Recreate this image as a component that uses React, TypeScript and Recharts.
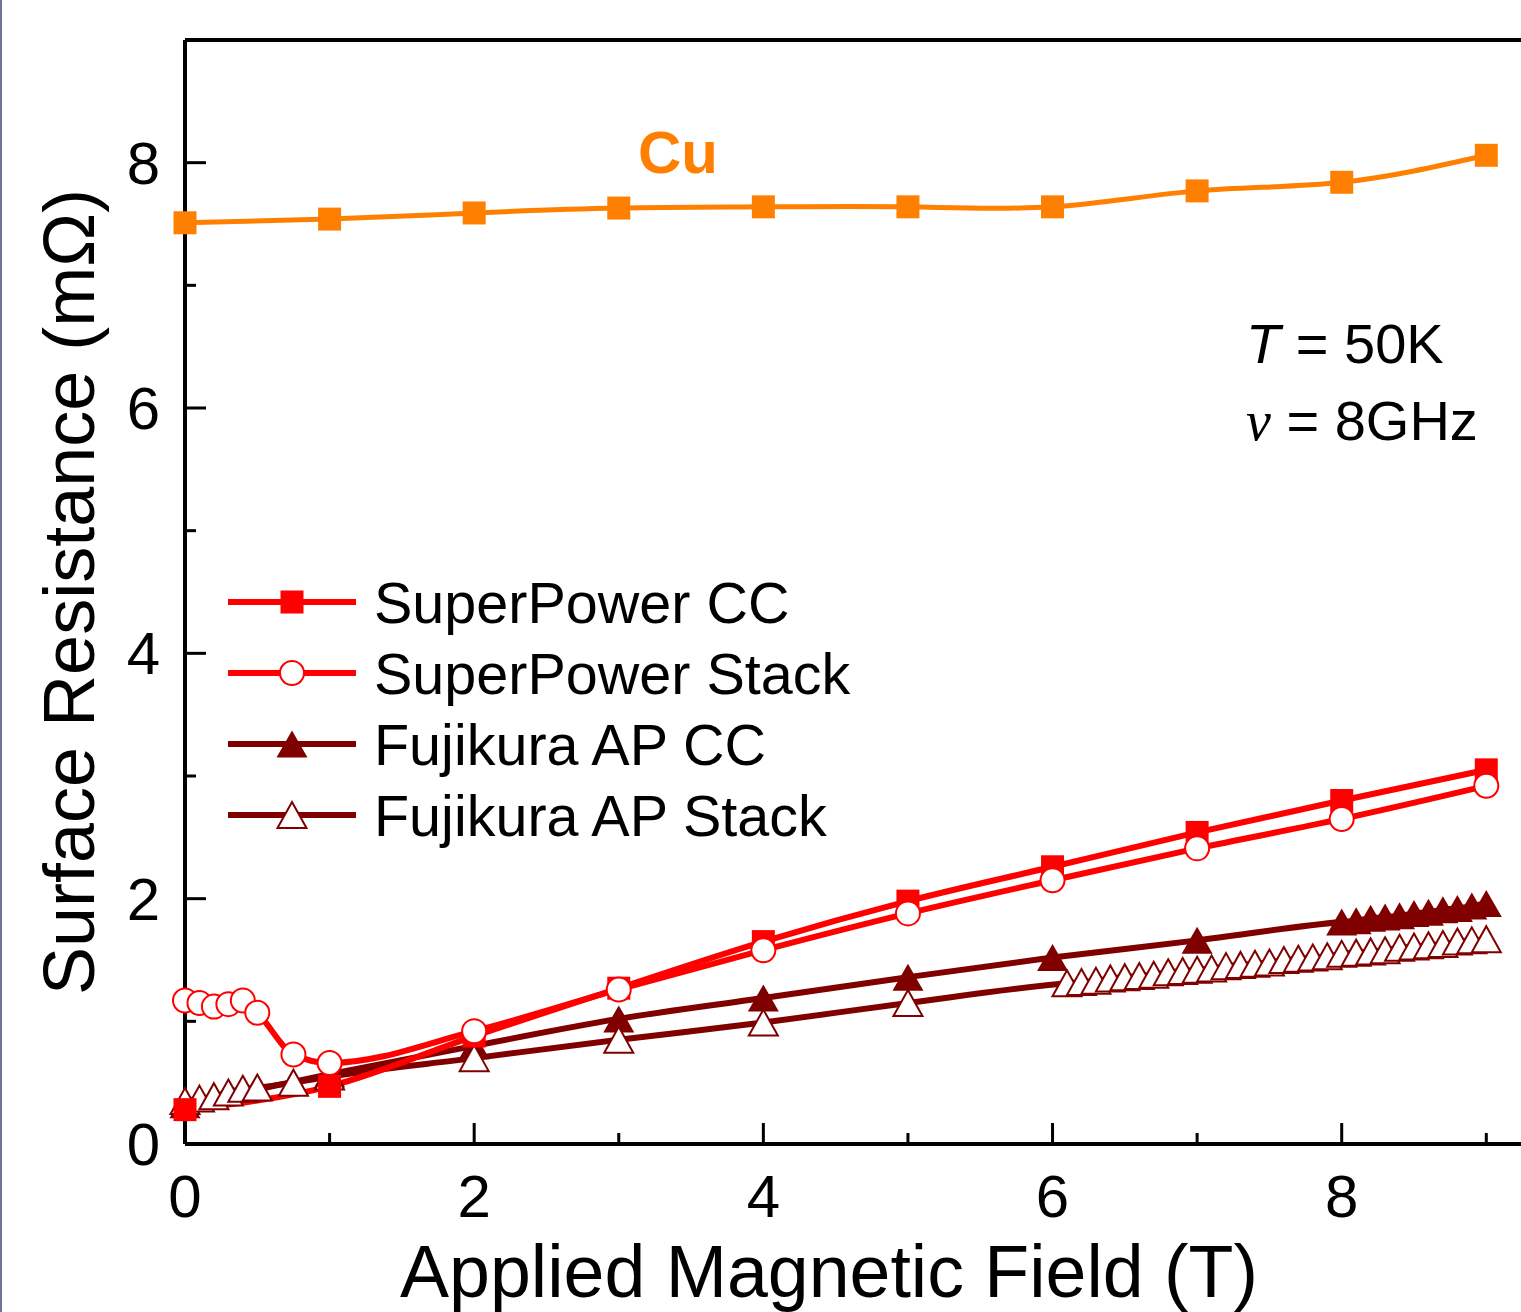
import React from "react";
import { LineChart, Line, XAxis, YAxis, ReferenceLine, Legend } from "recharts";

// field values (T) and surface resistance (mΩ)
const cuField = [0, 1, 2, 3, 4, 5, 6, 7, 8, 9];
const cuRs = [7.51, 7.54, 7.59, 7.63, 7.64, 7.64, 7.64, 7.77, 7.84, 8.06];

const spCcField = [0, 1, 2, 3, 4, 5, 6, 7, 8, 9];
const spCcRs = [0.28, 0.47, 0.88, 1.27, 1.65, 1.98, 2.26, 2.54, 2.8, 3.05];

const spStackField = [0, 0.1, 0.2, 0.3, 0.4, 0.5, 0.75, 1, 2, 3, 4, 5, 6, 7, 8, 9];
const spStackRs = [1.17, 1.15, 1.12, 1.14, 1.17, 1.07, 0.73, 0.66, 0.92, 1.26, 1.58, 1.88, 2.15, 2.41, 2.65, 2.92];

const fujiCcField = [0, 1, 2, 3, 4, 5, 6, 7, 8, 8.1, 8.2, 8.3, 8.4, 8.5, 8.6, 8.7, 8.8, 8.9, 9];
const fujiCcRs = [0.32, 0.57, 0.8, 1.02, 1.19, 1.36, 1.52, 1.66, 1.81, 1.82, 1.84, 1.85, 1.86, 1.88, 1.89, 1.91, 1.92, 1.94, 1.96];

const fujiStackField = [
  0, 0.1, 0.2, 0.3, 0.4, 0.5, 0.75, 1, 2, 3, 4, 5,
  6.1, 6.2, 6.3, 6.4, 6.5, 6.6, 6.7, 6.8, 6.9, 7, 7.1, 7.2, 7.3, 7.4, 7.5,
  7.6, 7.7, 7.8, 7.9, 8, 8.1, 8.2, 8.3, 8.4, 8.5, 8.6, 8.7, 8.8, 8.9, 9,
];
const fujiStackRs = [
  0.35, 0.37, 0.39, 0.42, 0.45, 0.46, 0.5, 0.55, 0.7, 0.85, 0.99, 1.15,
  1.31, 1.32, 1.33, 1.35, 1.36, 1.37, 1.38, 1.4, 1.41, 1.42, 1.43, 1.45, 1.46, 1.47, 1.48,
  1.5, 1.51, 1.52, 1.53, 1.55, 1.56, 1.57, 1.58, 1.6, 1.61, 1.62, 1.63, 1.65, 1.66, 1.67,
];

const xTicks = [0, 1, 2, 3, 4, 5, 6, 7, 8, 9];
const yTicks = [0, 1, 2, 3, 4, 5, 6, 7, 8];

const toPoints = (xs: number[], ys: number[]) => xs.map((x, i) => ({ x, y: ys[i] }));

const RED = "#ff0000";
const DARK = "#800000";
const ORANGE = "#ff8000";
const FONT = '"Liberation Sans", Arial, sans-serif';

const squareDot = (color: string) => (p: any) => (
  <rect key={`sq-${color}-${p.index}`} x={p.cx - 11.5} y={p.cy - 11.5} width={23} height={23} fill={color} />
);

const trianglePath = (cx: number, cy: number, w: number, h: number) =>
  `M${cx},${cy - h / 2} L${cx + w / 2},${cy + h / 2} L${cx - w / 2},${cy + h / 2} Z`;

const filledTriangle = (p: any) => (
  <path key={`ft-${p.index}`} d={trianglePath(p.cx, p.cy, 31, 27)} fill={DARK} />
);

const openTriangle = (p: any) => (
  <path key={`ot-${p.index}`} d={trianglePath(p.cx, p.cy, 29, 26)} fill="#fff" stroke={DARK} strokeWidth={2} />
);

const XTick = (p: any) => {
  const v = p.payload.value;
  const major = v % 2 === 0;
  return (
    <g>
      <line x1={p.x} x2={p.x} y1={p.y} y2={p.y - (major ? 21 : 11)} stroke="#000" strokeWidth={3} />
      {major && (
        <text x={p.x} y={p.y + 73} textAnchor="middle" fontSize={60} fontFamily={FONT} fill="#000">
          {v}
        </text>
      )}
    </g>
  );
};

const YTick = (p: any) => {
  const v = p.payload.value;
  const major = v % 2 === 0;
  return (
    <g>
      <line x1={p.x} x2={p.x + (major ? 21 : 11)} y1={p.y} y2={p.y} stroke="#000" strokeWidth={3} />
      {major && (
        <text x={p.x - 25} y={p.y + 21} textAnchor="end" fontSize={60} fontFamily={FONT} fill="#000">
          {v}
        </text>
      )}
    </g>
  );
};

const legendRows = [
  { name: "SuperPower CC", color: RED, kind: "square" },
  { name: "SuperPower Stack", color: RED, kind: "circle" },
  { name: "Fujikura AP CC", color: DARK, kind: "filled" },
  { name: "Fujikura AP Stack", color: DARK, kind: "open" },
];

const renderLegend = () => (
  <svg width={740} height={280}>
    {legendRows.map((r, i) => {
      const cy = 32 + i * 71;
      const cx = 72;
      return (
        <g key={r.name}>
          <line x1={8} x2={136} y1={cy} y2={cy} stroke={r.color} strokeWidth={6} />
          {r.kind === "square" && <rect x={cx - 11.5} y={cy - 11.5} width={23} height={23} fill={r.color} />}
          {r.kind === "circle" && <circle cx={cx} cy={cy} r={12} fill="#fff" stroke={r.color} strokeWidth={2} />}
          {r.kind === "filled" && <path d={trianglePath(cx, cy, 31, 27)} fill={r.color} />}
          {r.kind === "open" && <path d={trianglePath(cx, cy, 29, 26)} fill="#fff" stroke={r.color} strokeWidth={2} />}
          <text x={154} y={cy + 21} fontSize={57.5} fontFamily={FONT} fill="#000">
            {r.name}
          </text>
        </g>
      );
    })}
  </svg>
);

export default function App() {
  return (
    <div style={{ position: "relative", width: 1521, height: 1312, background: "#fff" }}>
      <style>{"body{margin:0}"}</style>
      <div style={{ position: "absolute", left: 0, top: 0, width: 2, height: 1312, background: "#6f7396" }} />
      <LineChart width={1521} height={1312} margin={{ top: 40, right: 0, bottom: 0, left: 0 }}>
        <XAxis
          type="number"
          dataKey="x"
          domain={[0, 9.24]}
          ticks={xTicks}
          interval={0}
          height={168}
          tickSize={0}
          tickMargin={0}
          tickLine={false}
          tick={<XTick />}
          axisLine={{ stroke: "#000", strokeWidth: 4 }}
          label={{
            value: "Applied Magnetic Field (T)",
            position: "insideBottom",
            offset: 15,
            dx: -24,
            fontSize: 73.5,
            fontFamily: FONT,
            fill: "#000",
          }}
        />
        <YAxis
          type="number"
          dataKey="y"
          domain={[0, 9]}
          ticks={yTicks}
          interval={0}
          width={185}
          tickSize={0}
          tickMargin={0}
          tickLine={false}
          tick={<YTick />}
          axisLine={{ stroke: "#000", strokeWidth: 4 }}
          label={{
            value: "Surface Resistance (mΩ)",
            angle: -90,
            position: "insideLeft",
            offset: 68,
            fontSize: 72,
            fontFamily: FONT,
            fill: "#000",
            style: { textAnchor: "middle" },
          }}
        />
        <ReferenceLine y={9} stroke="#000" strokeWidth={4} />
        <Legend
          layout="vertical"
          align="center"
          verticalAlign="middle"
          content={renderLegend}
          wrapperStyle={{ left: 220, top: 570, width: 740, height: 280 }}
        />
        <Line
          data={toPoints(fujiCcField, fujiCcRs)}
          dataKey="y"
          type="monotone"
          stroke={DARK}
          strokeWidth={6}
          dot={filledTriangle}
          activeDot={false}
          isAnimationActive={false}
        />
        <Line
          data={toPoints(fujiStackField, fujiStackRs)}
          dataKey="y"
          type="monotone"
          stroke={DARK}
          strokeWidth={6}
          dot={openTriangle}
          activeDot={false}
          isAnimationActive={false}
        />
        <Line
          data={toPoints(spCcField, spCcRs)}
          dataKey="y"
          type="monotone"
          stroke={RED}
          strokeWidth={6}
          dot={squareDot(RED)}
          activeDot={false}
          isAnimationActive={false}
        />
        <Line
          data={toPoints(spStackField, spStackRs)}
          dataKey="y"
          type="monotone"
          stroke={RED}
          strokeWidth={6}
          dot={{ r: 12, fill: "#fff", stroke: RED, strokeWidth: 2 }}
          activeDot={false}
          isAnimationActive={false}
        />
        <Line
          data={toPoints(cuField, cuRs)}
          dataKey="y"
          type="natural"
          stroke={ORANGE}
          strokeWidth={5}
          dot={squareDot(ORANGE)}
          activeDot={false}
          isAnimationActive={false}
        />
      </LineChart>
      <svg
        width={1521}
        height={1312}
        style={{ position: "absolute", left: 0, top: 0, pointerEvents: "none" }}
      >
        <text x={638} y={173} fontSize={60} fontWeight="bold" fontFamily={FONT} fill={ORANGE}>
          Cu
        </text>
        <text x={1246} y={363} fontSize={56} fontFamily={FONT} fill="#000">
          <tspan fontStyle="italic">T</tspan>
          <tspan> = 50K</tspan>
        </text>
        <text x={1246} y={440} fontSize={56} fontFamily={FONT} fill="#000">
          <tspan fontStyle="italic" fontFamily='"Liberation Serif", "DejaVu Serif", serif'>ν</tspan>
          <tspan> = 8GHz</tspan>
        </text>
      </svg>
    </div>
  );
}
